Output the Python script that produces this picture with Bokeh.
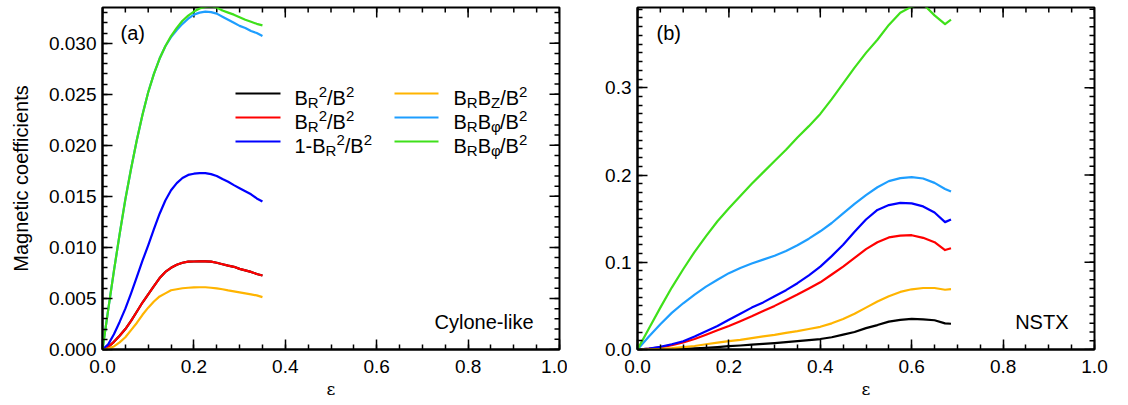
import numpy as np
from bokeh.plotting import figure
from bokeh.layouts import row
from bokeh.models import Range1d, FixedTicker, PrintfTickFormatter, Label, BoxAnnotation
from bokeh.embed import file_html
from bokeh.resources import INLINE

# ---------------- data: panel (a) Cylone-like ----------------
eps_a = [0.0, 0.0125, 0.025, 0.0375, 0.05, 0.0625, 0.075, 0.0875, 0.1, 0.1125, 0.125,
         0.1375, 0.15, 0.1625, 0.175, 0.1875, 0.2, 0.2125, 0.225, 0.2375, 0.25, 0.2625,
         0.275, 0.2875, 0.3, 0.3125, 0.325, 0.3375, 0.35]
a_br2_black = [0, 0.00025, 0.00075, 0.00135, 0.0020, 0.0028, 0.0037, 0.0046, 0.0054, 0.0062,
               0.0070, 0.0076, 0.0080, 0.0083, 0.0085, 0.0086, 0.00862, 0.00864, 0.00864,
               0.0086, 0.0085, 0.00835, 0.00821, 0.0081, 0.0079, 0.00775, 0.0076, 0.0074,
               0.00725]
a_br2_red = [0, 0.00025, 0.00075, 0.00135, 0.0020, 0.0028, 0.0037, 0.0046, 0.0054, 0.0062,
             0.0070, 0.0076, 0.0080, 0.0083, 0.0085, 0.0086, 0.00862, 0.00864, 0.00864,
             0.0086, 0.0085, 0.00835, 0.00821, 0.0081, 0.0079, 0.00775, 0.0076, 0.0074,
             0.00725]
a_one_minus = [0, 0.0005, 0.0015, 0.0027, 0.0040, 0.0055, 0.0071, 0.0087, 0.0102, 0.0118,
               0.0133, 0.0146, 0.0156, 0.0163, 0.0168, 0.0171, 0.01722, 0.01728, 0.01728,
               0.01718, 0.0170, 0.0167, 0.01643, 0.0161, 0.0158, 0.0155, 0.0152, 0.0148,
               0.0145]
a_brbz = [0, 0.0001, 0.0003, 0.0007, 0.0012, 0.0019, 0.0026, 0.0034, 0.0041, 0.0047,
          0.0052, 0.0055, 0.0058, 0.0059, 0.0060, 0.00605, 0.00608, 0.0061, 0.0061,
          0.00605, 0.00598, 0.0059, 0.00579, 0.0057, 0.0056, 0.0055, 0.0054, 0.0053,
          0.00513]
a_brbphi_1 = [0, 0.0039, 0.0077, 0.0113, 0.0147, 0.0177, 0.0205, 0.0230, 0.0252, 0.0270,
              0.0285, 0.0297, 0.0306, 0.0313, 0.0319, 0.0324, 0.0328, 0.0330, 0.0331,
              0.03305, 0.0329, 0.0326, 0.0323, 0.0320, 0.0317, 0.0315, 0.0312, 0.0310,
              0.0307]
a_brbphi_2 = [0, 0.0039, 0.0077, 0.0113, 0.0147, 0.0177, 0.0205, 0.0230, 0.0252, 0.0270,
              0.0285, 0.0297, 0.0307, 0.0315, 0.0322, 0.0327, 0.0331, 0.0334, 0.03355,
              0.0336, 0.0335, 0.0332, 0.0330, 0.0328, 0.03255, 0.0323, 0.0321, 0.0319,
              0.03175]

# ---------------- data: panel (b) NSTX ----------------
eps_b = [0.0, 0.025, 0.05, 0.075, 0.1, 0.125, 0.15, 0.175, 0.2, 0.225, 0.25, 0.275, 0.3,
         0.325, 0.35, 0.375, 0.4, 0.425, 0.45, 0.475, 0.5, 0.525, 0.55, 0.575, 0.6, 0.625,
         0.65, 0.673, 0.686]
b_br2_black = [0, 0.0001, 0.0002, 0.0004, 0.0008, 0.0013, 0.002, 0.0028, 0.0038, 0.0046,
               0.0055, 0.0064, 0.0073, 0.0084, 0.0095, 0.0107, 0.012, 0.014, 0.017, 0.020,
               0.0245, 0.028, 0.032, 0.034, 0.035, 0.0345, 0.0335, 0.030, 0.0295]
b_br2_red = [0, 0.001, 0.0025, 0.005, 0.008, 0.012, 0.017, 0.022, 0.027, 0.0325, 0.038,
             0.044, 0.050, 0.0565, 0.063, 0.070, 0.077, 0.086, 0.095, 0.105, 0.115, 0.123,
             0.1285, 0.1305, 0.131, 0.128, 0.123, 0.114, 0.116]
b_one_minus = [0, 0.001, 0.003, 0.006, 0.0095, 0.015, 0.021, 0.027, 0.034, 0.041, 0.048,
               0.054, 0.061, 0.068, 0.076, 0.085, 0.095, 0.107, 0.120, 0.135, 0.149, 0.160,
               0.1655, 0.168, 0.1675, 0.164, 0.157, 0.146, 0.149]
b_brbz = [0, 0.0003, 0.0008, 0.0016, 0.0027, 0.004, 0.006, 0.0078, 0.0095, 0.011, 0.013,
          0.015, 0.0167, 0.019, 0.021, 0.0235, 0.026, 0.030, 0.035, 0.041, 0.048, 0.055,
          0.061, 0.066, 0.069, 0.0705, 0.0705, 0.0685, 0.0692]
b_brbphi_1 = [0, 0.015, 0.029, 0.042, 0.053, 0.063, 0.072, 0.080, 0.0875, 0.0935, 0.0985,
              0.103, 0.1075, 0.113, 0.1195, 0.127, 0.1355, 0.145, 0.156, 0.167, 0.177,
              0.186, 0.193, 0.1965, 0.1975, 0.196, 0.191, 0.184, 0.181]
b_brbphi_2 = [0, 0.024, 0.048, 0.071, 0.092, 0.112, 0.130, 0.147, 0.162, 0.176, 0.190,
              0.203, 0.216, 0.229, 0.243, 0.256, 0.270, 0.287, 0.305, 0.323, 0.340, 0.355,
              0.372, 0.386, 0.393, 0.396, 0.383, 0.373, 0.378]

x_ticks = [0.0, 0.2, 0.4, 0.6, 0.8, 1.0]
ya_ticks = [0.000, 0.005, 0.010, 0.015, 0.020, 0.025, 0.030]
yb_ticks = [0.0, 0.1, 0.2, 0.3]

COLORS = ["#000000", "#FF0000", "#0000FF", "#FFB400", "#1E9EFF", "#3FE01A"]
FONT = "Liberation Sans"

x_minor = [round(v, 3) for v in np.arange(0, 1.0001, 0.05)]
ya_minor = [round(v, 4) for v in np.arange(0, 0.0335, 0.001)]
yb_minor = [round(v, 3) for v in np.arange(0, 0.392, 0.01)]

FW, FH = 457, 342  # frame size in px


def style_axis(ax):
    ax.axis_line_width = 2
    ax.major_tick_in = 10
    ax.major_tick_out = 0
    ax.minor_tick_in = 5
    ax.minor_tick_out = 0
    ax.major_tick_line_width = 1.5
    ax.minor_tick_line_width = 1.5
    ax.major_label_text_font = FONT
    ax.major_label_text_color = "black"
    ax.major_label_text_font_size = "19px"


def make_fig(width, left, right, ymax, yticks, yminor, yfmt, ylabel):
    p = figure(width=width, height=405, x_range=Range1d(0, 1), y_range=Range1d(0, ymax),
               output_backend="svg", toolbar_location=None,
               min_border_left=left, min_border_right=right,
               min_border_top=7, min_border_bottom=56)
    p.xgrid.visible = False
    p.ygrid.visible = False
    p.outline_line_color = "black"
    p.outline_line_width = 2
    p.outline_line_alpha = 1
    xa = p.xaxis[0]
    xa.ticker = FixedTicker(ticks=x_ticks, minor_ticks=x_minor)
    xa.formatter = PrintfTickFormatter(format="%.1f")
    style_axis(xa)
    xa.major_label_standoff = 10
    xa.axis_label = "ε"
    xa.axis_label_text_font = "DejaVu Serif"
    xa.axis_label_text_font_size = "17px"
    xa.axis_label_text_font_style = "normal"
    xa.axis_label_text_color = "black"
    xa.axis_label_standoff = 3
    ya = p.yaxis[0]
    ya.ticker = FixedTicker(ticks=yticks, minor_ticks=yminor)
    ya.formatter = PrintfTickFormatter(format=yfmt)
    style_axis(ya)
    ya.major_label_standoff = 6
    if ylabel:
        ya.axis_label = ylabel
        ya.axis_label_text_font = FONT
        ya.axis_label_text_font_size = "20px"
        ya.axis_label_text_font_style = "normal"
        ya.axis_label_text_color = "black"
        ya.axis_label_standoff = 14
    # mirrored inward ticks on top and right edges
    dy = ymax / FH
    dx = 1.0 / FW
    for ticks, ln in ((x_ticks, 10), (x_minor, 5)):
        p.segment(x0=ticks, y0=[ymax] * len(ticks), x1=ticks,
                  y1=[ymax - ln * dy] * len(ticks), line_color="black", line_width=1.5)
    for ticks, ln in ((yticks, 10), (yminor, 5)):
        p.segment(x0=[1.0] * len(ticks), y0=ticks, x1=[1.0 - ln * dx] * len(ticks),
                  y1=ticks, line_color="black", line_width=1.5)
    return p


pa = make_fig(567, 102, 8, 0.0335, ya_ticks, ya_minor, "%.3f", "Magnetic coefficients")
pb = make_fig(561, 70, 34, 0.392, yb_ticks, yb_minor, "%.1f", None)

series_a = [a_br2_black, a_br2_red, a_one_minus, a_brbz, a_brbphi_1, a_brbphi_2]
series_b = [b_br2_black, b_br2_red, b_one_minus, b_brbz, b_brbphi_1, b_brbphi_2]
for ys, c in zip(series_a, COLORS):
    pa.line(eps_a, ys, line_color=c, line_width=2.2, line_join="round")
for ys, c in zip(series_b, COLORS):
    pb.line(eps_b, ys, line_color=c, line_width=2.2, line_join="round")


def lab(p, x, y, text, size="20px", align="left", baseline="middle", font=FONT):
    p.add_layout(Label(x=x, y=y, x_units="screen", y_units="screen", text=text,
                       text_font=font, text_font_size=size, text_align=align,
                       text_baseline=baseline, text_color="black"))


lab(pa, 18, 317, "(a)")
lab(pb, 19, 317, "(b)")
lab(pa, 431, 28, "Cylone-like", align="right")
lab(pb, 431, 28, "NSTX", align="right")

# ---------------- hand-drawn legend with sub/superscripts ----------------
W = {"B": .667, "R": .722, "Z": .611, "2": .556, "1": .556, "-": .333, "/": .278, "φ": .60}
F, S = 20, 15


def rich(p, x0, base, parts):
    x = x0
    for txt, kind in parts:
        if kind == "n":
            size, off = F, 0
        elif kind == "sub":
            size, off = S, -4.5
        else:
            size, off = S, 6.5
        lab(p, x, base + off, txt, size=f"{size}px", baseline="alphabetic")
        x += sum(W[ch] for ch in txt) * size


legend_entries = [
    [("B", "n"), ("R", "sub"), ("2", "sup"), ("/B", "n"), ("2", "sup")],
    [("B", "n"), ("R", "sub"), ("2", "sup"), ("/B", "n"), ("2", "sup")],
    [("1-B", "n"), ("R", "sub"), ("2", "sup"), ("/B", "n"), ("2", "sup")],
    [("B", "n"), ("R", "sub"), ("B", "n"), ("Z", "sub"), ("/B", "n"), ("2", "sup")],
    [("B", "n"), ("R", "sub"), ("B", "n"), ("φ", "sub"), ("/B", "n"), ("2", "sup")],
    [("B", "n"), ("R", "sub"), ("B", "n"), ("φ", "sub"), ("/B", "n"), ("2", "sup")],
]
row_y = [256, 232, 208]
col_line = [(133, 178), (292, 336)]
col_text = [192, 351]
for i, (parts, c) in enumerate(zip(legend_entries, COLORS)):
    col, r = divmod(i, 3)
    yl = row_y[r]
    pa.add_layout(BoxAnnotation(left=col_line[col][0], right=col_line[col][1],
                                bottom=yl - 1.1, top=yl + 1.1,
                                left_units="screen", right_units="screen",
                                bottom_units="screen", top_units="screen",
                                fill_color=c, fill_alpha=1.0, line_color=None))
    rich(pa, col_text[col], yl - 4.5, parts)

layout = row(pa, pb)
open("out.html", "w").write(file_html(layout, INLINE))
